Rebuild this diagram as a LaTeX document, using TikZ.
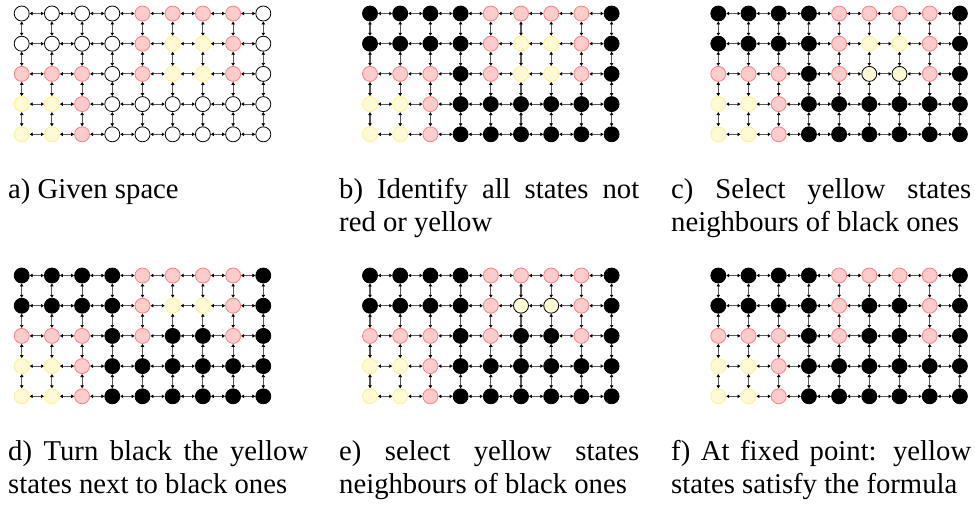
\documentclass[tikz,border=0pt]{standalone}
\usepackage{fontspec}
\setmainfont{Liberation Serif}
\newfontfamily\capfont{Liberation Serif}
\usetikzlibrary{arrows.meta}
\definecolor{rfill}{RGB}{255,204,204}
\definecolor{rdraw}{RGB}{255,128,128}
\definecolor{yfill}{RGB}{255,250,214}
\definecolor{ydraw}{RGB}{255,240,140}
\tikzset{
  state/.style={circle, minimum size=15pt, inner sep=0pt, line width=0.8pt},
  stw/.style={state, draw=black, fill=white},
  str/.style={state, draw=rdraw, fill=rfill},
  sty/.style={state, draw=ydraw, fill=yfill},
  stk/.style={state, draw=black, fill=black},
  sts/.style={state, draw=black, fill=yfill},
  link/.style={{Latex[length=3pt,width=4pt,black]}-{Latex[length=3pt,width=4pt,black]}, line width=1.1pt, black!65},
  captext/.style={anchor=base west, inner sep=0pt, text width=300pt, align=justify,
    font=\capfont\fontsize{28.7}{33}\selectfont}
}
\newcommand{\staterow}[4]{% #1 panel, #2 x0, #3 y, #4 list
  \foreach \s [count=\i from 0] in #4 {
    \node[\s] (#1-\i-\j) at ({#2+30.2*\i},{#3}) {};
  }%
}
\begin{document}
\begin{tikzpicture}[x=1pt,y=-1pt]
\useasboundingbox (0,0) rectangle (975,504);
\foreach \p/\xo/\yo/\ra/\rb/\rc/\rd/\re in {
  a/21.7/13.5/{stw,stw,stw,stw,str,str,str,str,stw}/{stw,stw,stw,stw,str,sty,sty,str,stw}/{str,str,str,stw,str,sty,sty,str,stw}/{sty,sty,str,stw,stw,stw,stw,stw,stw}/{sty,sty,str,stw,stw,stw,stw,stw,stw},
  b/370/13.5/{stk,stk,stk,stk,str,str,str,str,stk}/{stk,stk,stk,stk,str,sty,sty,str,stk}/{str,str,str,stk,str,sty,sty,str,stk}/{sty,sty,str,stk,stk,stk,stk,stk,stk}/{sty,sty,str,stk,stk,stk,stk,stk,stk},
  c/718.3/13.5/{stk,stk,stk,stk,str,str,str,str,stk}/{stk,stk,stk,stk,str,sty,sty,str,stk}/{str,str,str,stk,str,sts,sts,str,stk}/{sty,sty,str,stk,stk,stk,stk,stk,stk}/{sty,sty,str,stk,stk,stk,stk,stk,stk},
  d/21.7/275.5/{stk,stk,stk,stk,str,str,str,str,stk}/{stk,stk,stk,stk,str,sty,sty,str,stk}/{str,str,str,stk,str,stk,stk,str,stk}/{sty,sty,str,stk,stk,stk,stk,stk,stk}/{sty,sty,str,stk,stk,stk,stk,stk,stk},
  e/370/275.5/{stk,stk,stk,stk,str,str,str,str,stk}/{stk,stk,stk,stk,str,sts,sts,str,stk}/{str,str,str,stk,str,stk,stk,str,stk}/{sty,sty,str,stk,stk,stk,stk,stk,stk}/{sty,sty,str,stk,stk,stk,stk,stk,stk},
  f/718.3/275.5/{stk,stk,stk,stk,str,str,str,str,stk}/{stk,stk,stk,stk,str,stk,stk,str,stk}/{str,str,str,stk,str,stk,stk,str,stk}/{sty,sty,str,stk,stk,stk,stk,stk,stk}/{sty,sty,str,stk,stk,stk,stk,stk,stk}}
{
  \def\j{0}\staterow{\p}{\xo}{\yo}{\ra}
  \def\j{1}\staterow{\p}{\xo}{\yo+30.2}{\rb}
  \def\j{2}\staterow{\p}{\xo}{\yo+60.4}{\rc}
  \def\j{3}\staterow{\p}{\xo}{\yo+90.6}{\rd}
  \def\j{4}\staterow{\p}{\xo}{\yo+120.8}{\re}
  \foreach \j in {0,...,4}{
    \foreach \i [evaluate=\i as \ni using int(\i+1)] in {0,...,7}{
      \draw[link] (\p-\i-\j) -- (\p-\ni-\j);
    }
  }
  \foreach \j [evaluate=\j as \nj using int(\j+1)] in {0,...,3}{
    \foreach \i in {0,...,8}{
      \draw[link] (\p-\i-\j) -- (\p-\i-\nj);
    }
  }
}
\node[captext] (capa) at (8,198) {a) Given space};
\node[captext] (capb) at (339,198) {b) Identify all states not\linebreak red or yellow};
\node[captext] (capc) at (671,198) {c) Select yellow states\linebreak neighbours of black ones};
\node[captext] (capd) at (8,460) {d) Turn black the yellow\linebreak states next to black ones};
\node[captext] (cape) at (339,460) {e) select yellow states\linebreak neighbours of black ones};
\node[captext] (capf) at (671,460) {f) At fixed point: yellow\linebreak states satisfy the formula};
\end{tikzpicture}
\end{document}
